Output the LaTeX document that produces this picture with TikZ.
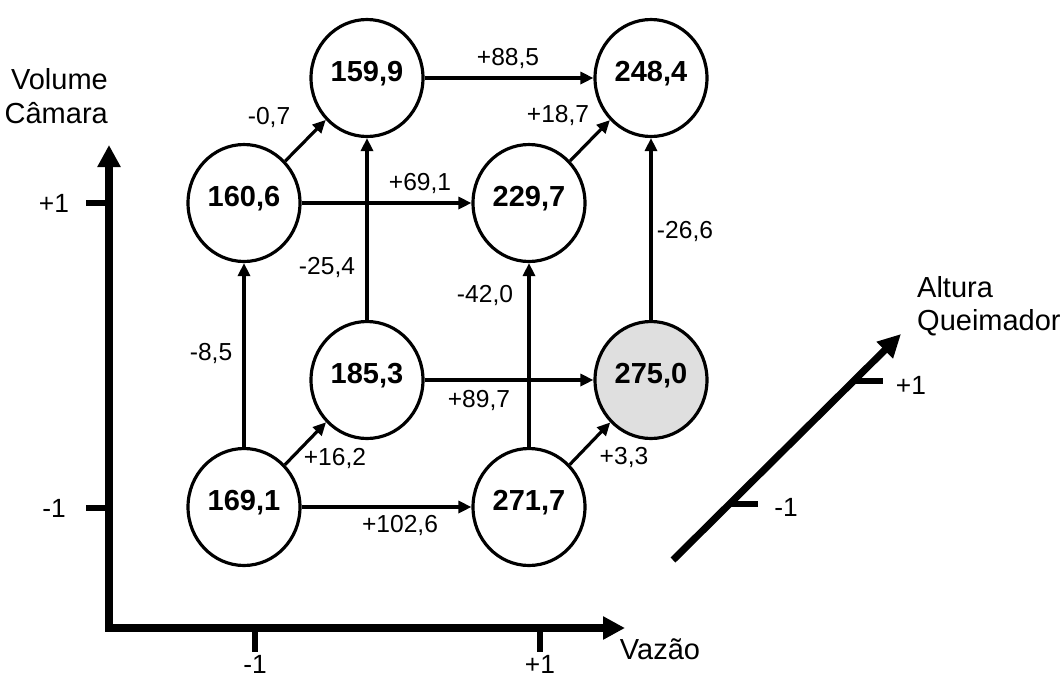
\documentclass[tikz,border=0pt]{standalone}
\usepackage{fontspec}
\setmainfont{Liberation Sans}
\usetikzlibrary{shapes.geometric, arrows.meta}

\begin{document}
\begin{tikzpicture}[x=0.02cm, y=-0.02cm,
    state/.style={ellipse, draw, line width=1.8pt, minimum width=2.24cm, minimum height=2.34cm,
        inner sep=0pt, text height=0.4cm, text depth=0.25cm, font=\fontsize{16.5}{19}\selectfont\bfseries},
    eff/.style={line width=1.8pt, -{Triangle[length=0.26cm, width=0.24cm]}},
    axis/.style={line width=4pt, line join=miter, {Triangle[length=0.44cm, width=0.44cm]}-{Triangle[length=0.44cm, width=0.44cm]}},
    axisq/.style={line width=4pt, -{Triangle[length=0.46cm, width=0.44cm]}},
    tick/.style={line width=3.5pt},
    val/.style={font=\fontsize{14}{16}\selectfont},
    axlabel/.style={font=\fontsize{16.5}{19}\selectfont},
    ticklabel/.style={font=\fontsize{15}{17}\selectfont}]

\useasboundingbox (0,0) rectangle (1062,677);

% Axes
\coordinate (vtop) at (109,145);
\coordinate (o) at (109,628);
\coordinate (hend) at (625,628);
\draw[axis] (vtop) -- (o) -- (hend);
\node[axlabel, align=right, anchor=east] (lblvol) at (114,96) {Volume\\Câmara};
\node[axlabel] (lblvaz) at (660,649) {Vazão};

% Ticks
\foreach \y/\t in {203/+1, 508/-1} {
    \draw[tick] (109,\y) -- (86,\y);
    \node[ticklabel] (tv\y) at (54,\y) {\t};
}
\foreach \x/\t in {255/-1, 540/+1} {
    \draw[tick] (\x,628) -- (\x,652);
    \node[ticklabel] (th\x) at (\x,664) {\t};
}

% Third axis
\coordinate (qa) at (673,560);
\coordinate (qb) at (901,334);
\coordinate (qm) at (730,504);
\coordinate (qp) at (855,381);
\draw[axisq] (qa) -- (qb);
\draw[tick] (qm) -- ++(28,0);
\draw[tick] (qp) -- ++(28,0);
\node[ticklabel] (tqm) at (786,507) {-1};
\node[ticklabel] (tqp) at (911,385) {+1};
\node[axlabel, align=left, anchor=west] (lblalt) at (911,306) {Altura\\Queimador};

% Responses
\node[state] (n169) at (244,507) {169,1};
\node[state] (n272) at (529,507) {271,7};
\node[state] (n185) at (367,380) {185,3};
\node[state, fill=gray!25] (n275) at (651,380) {275,0};
\node[state] (n161) at (244,203) {160,6};
\node[state] (n230) at (529,203) {229,7};
\node[state] (n160) at (367,78) {159,9};
\node[state] (n248) at (651,78) {248,4};

% Effects
\draw[eff] (n169) -- (n272);
\draw[eff] (n169) -- (n185);
\draw[eff] (n169) -- (n161);
\draw[eff] (n272) -- (n275);
\draw[eff] (n272) -- (n230);
\draw[eff] (n185) -- (n275);
\draw[eff] (n185) -- (n160);
\draw[eff] (n161) -- (n230);
\draw[eff] (n161) -- (n160);
\draw[eff] (n230) -- (n248);
\draw[eff] (n275) -- (n248);
\draw[eff] (n160) -- (n248);

\node[val] (e1) at (400,525) {+102,6};
\node[val] (e2) at (335,458) {+16,2};
\node[val] (e3) at (211,353) {-8,5};
\node[val] (e4) at (624,457) {+3,3};
\node[val] (e5) at (485,295) {-42,0};
\node[val] (e6) at (479,400) {+89,7};
\node[val] (e7) at (327,267) {-25,4};
\node[val] (e8) at (420,183) {+69,1};
\node[val] (e9) at (269,117) {-0,7};
\node[val] (e10) at (558,115) {+18,7};
\node[val] (e11) at (685,231) {-26,6};
\node[val] (e12) at (508,58) {+88,5};

\end{tikzpicture}
\end{document}
